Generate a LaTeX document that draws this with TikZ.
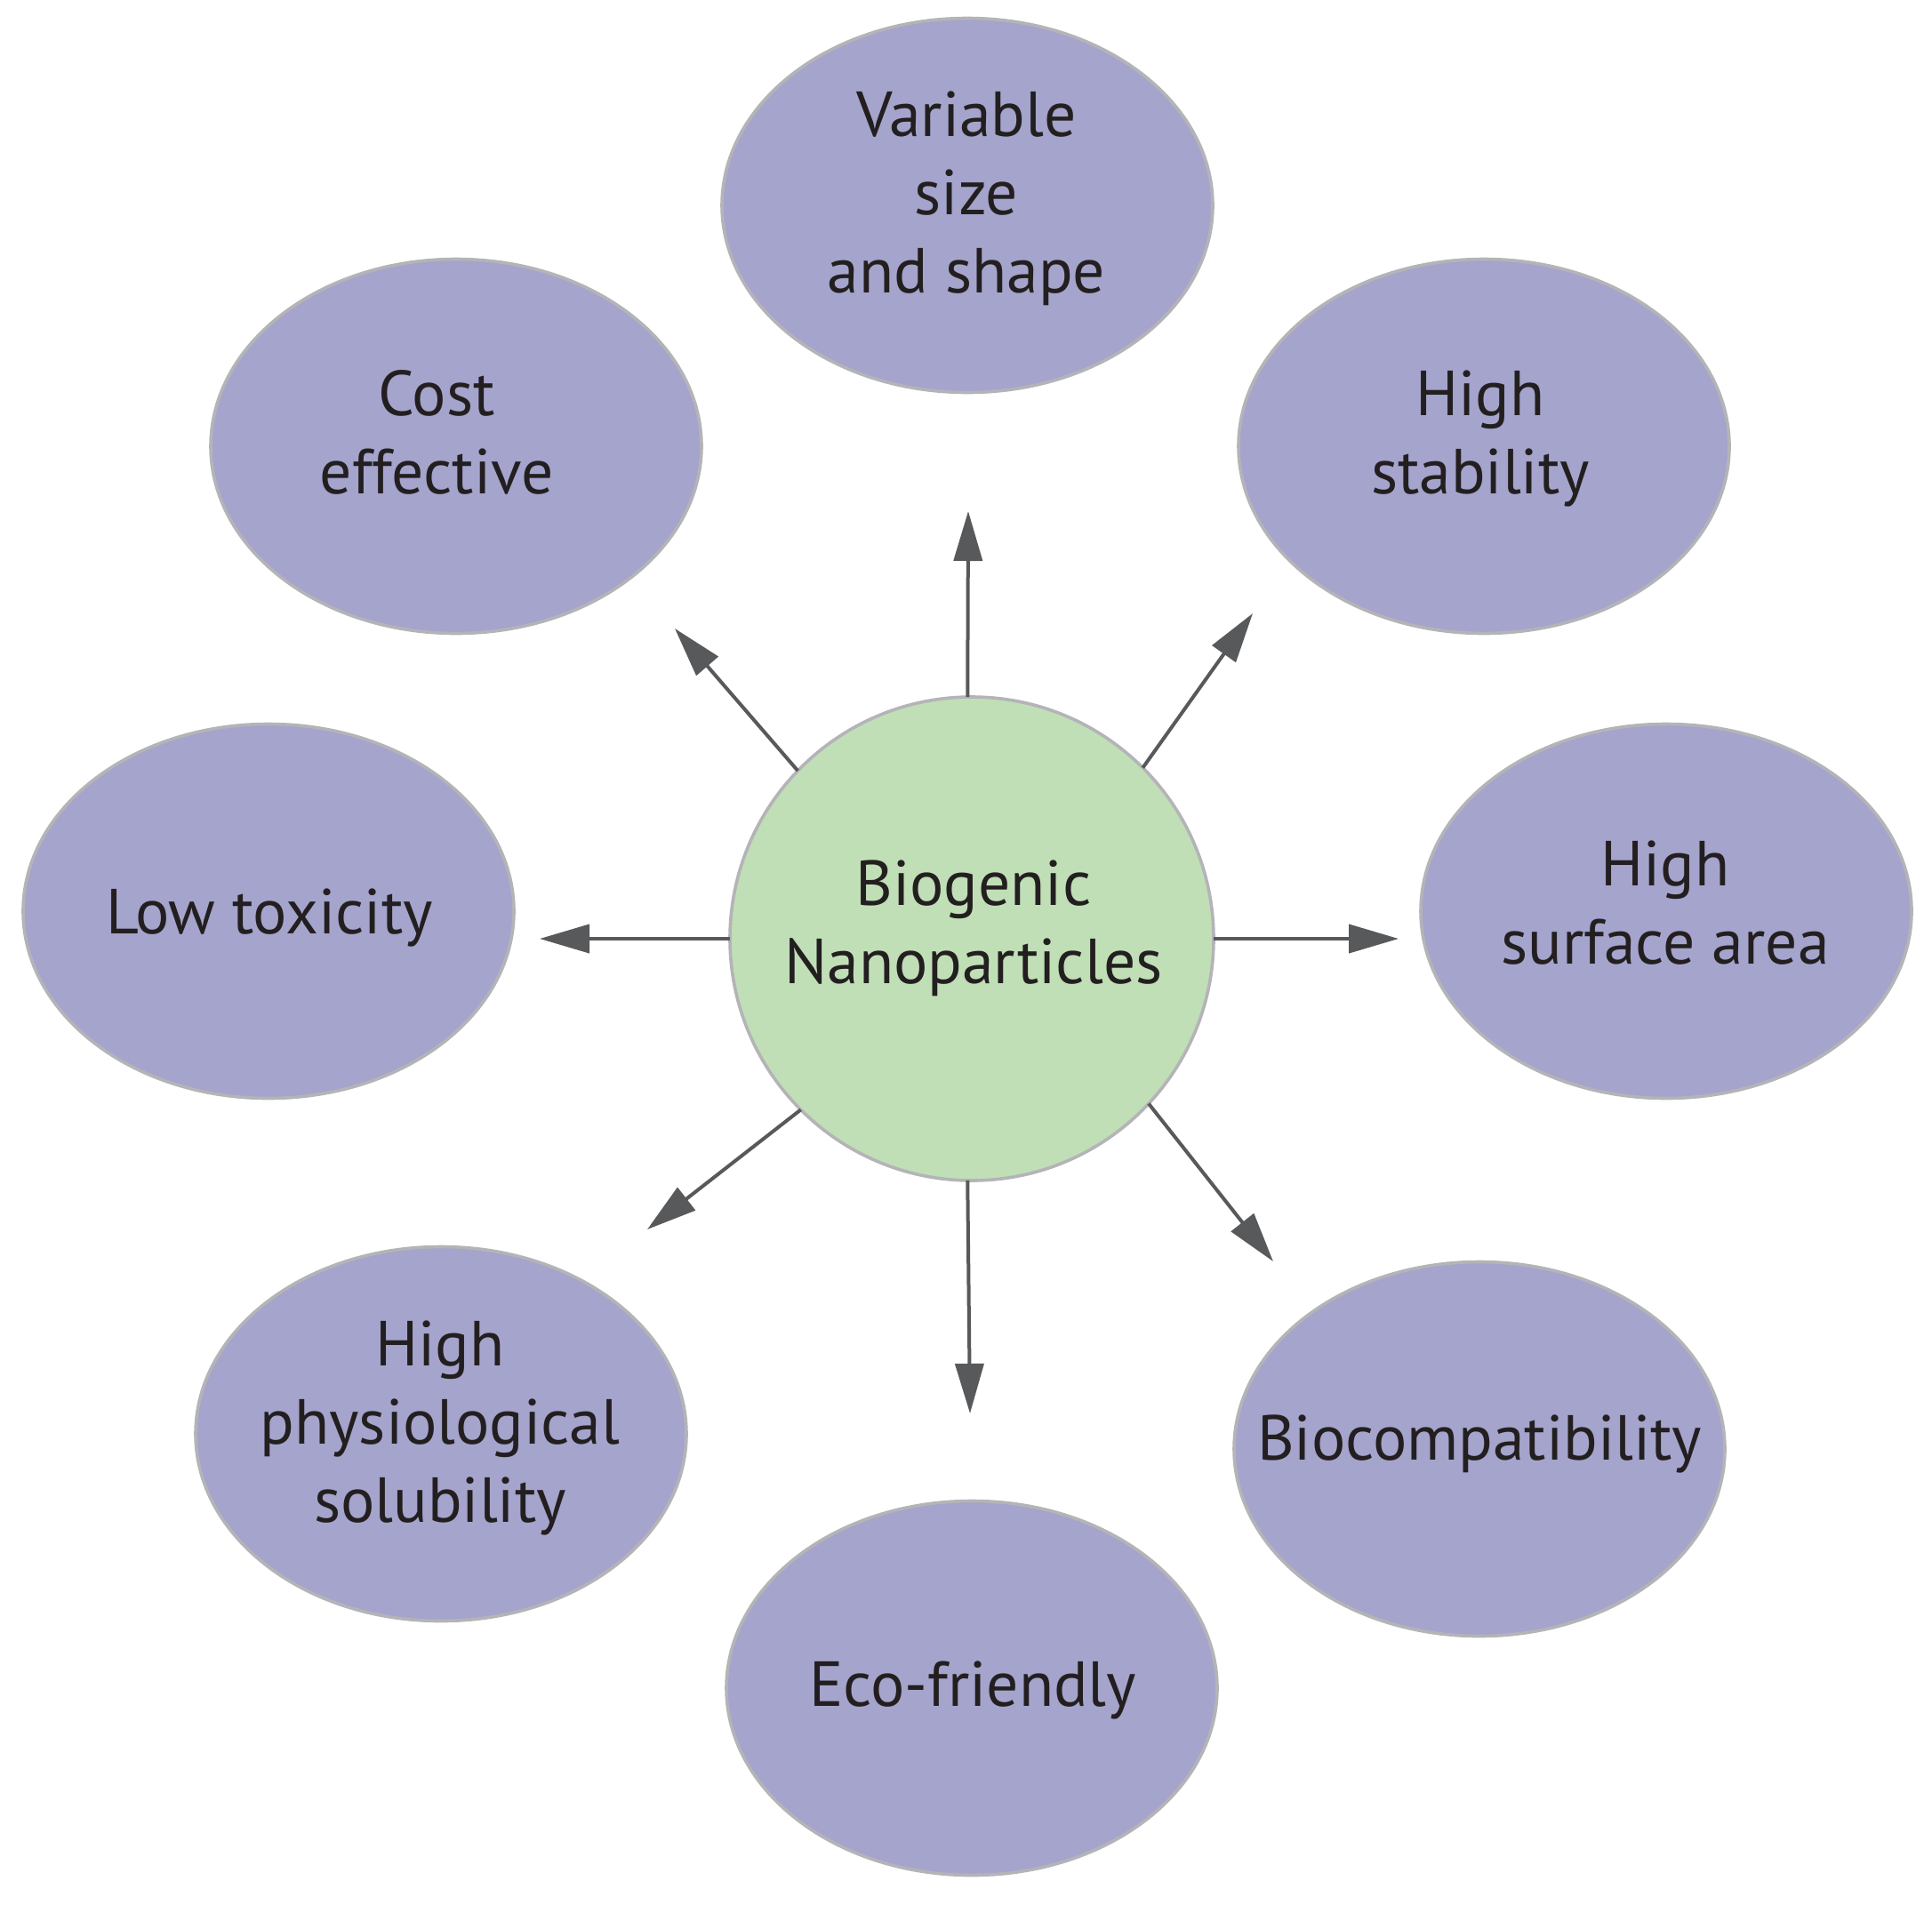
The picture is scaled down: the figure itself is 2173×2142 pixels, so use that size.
\documentclass[tikz,border=0pt]{standalone}
\usepackage{fontspec}
\setmainfont{PT Sans}
\usetikzlibrary{shapes.geometric,arrows.meta}
\definecolor{ellfill}{HTML}{A4A4CC}
\definecolor{ellline}{HTML}{B4B4B8}
\definecolor{cirfill}{HTML}{C0DFB6}
\definecolor{arrcol}{HTML}{58595B}
\definecolor{txtcol}{HTML}{231F20}
\newcommand{\lines}[1]{\begin{tabular}[t]{@{}c@{}}#1\end{tabular}}
\tikzset{
  prop/.style={ellipse, fill=ellfill, draw=ellline, line width=0.9pt,
    minimum width=138pt, minimum height=105.25pt, inner sep=0pt},
  hub/.style={circle, fill=cirfill, draw=ellline, line width=0.9pt,
    minimum size=136pt, inner sep=0pt, outer sep=0pt},
  lbl/.style={anchor=base, inner sep=0pt, text=txtcol,
    font=\fontsize{17.9pt}{22pt}\selectfont},
  link/.style={draw=arrcol, line width=1pt,
    -{Triangle[length=14pt,width=8pt]}, arrcol}
}
\begin{document}
\begin{tikzpicture}[x=0.25pt,y=-0.25pt]
\useasboundingbox (0,0) rectangle (2173,2142);
\node[hub] (c) at (1093,1056) {};
\node[prop] (top) at (1088,231) {};
\node[prop] (cost) at (513,502) {};
\node[prop] (stab) at (1669,502) {};
\node[prop] (low) at (302,1025) {};
\node[prop] (surf) at (1874,1025) {};
\node[prop] (sol) at (496,1613) {};
\node[prop] (bio) at (1664,1630) {};
\node[prop] (eco) at (1093,1899) {};
\node[lbl] (cT) at (1095,1018) {\lines{Biogenic\\Nanoparticles}};
\node[lbl] (topT) at (1087,153) {\lines{Variable\\size\\and shape}};
\node[lbl] (costT) at (491,467) {\lines{Cost\\effective}};
\node[lbl] (stabT) at (1665,467) {\lines{High\\stability}};
\node[lbl] (lowT) at (303,1050) {\lines{Low toxicity}};
\node[lbl] (surfT) at (1873,996) {\lines{High\\surface area}};
\node[lbl] (solT) at (495,1536) {\lines{High\\physiological\\solubility}};
\node[lbl] (bioT) at (1664,1642) {\lines{Biocompatibility}};
\node[lbl] (ecoT) at (1094,1919) {\lines{Eco-friendly}};
\coordinate (tU) at (1089,575);
\coordinate (tUL) at (759,707);
\coordinate (tUR) at (1409,690);
\coordinate (tL) at (607,1056);
\coordinate (tR) at (1573,1056);
\coordinate (tLL) at (728,1383);
\coordinate (tLR) at (1432,1419);
\coordinate (tD) at (1091,1590);
\draw[link] (c.91) -- (tU);
\draw[link] (c.136) -- (tUL);
\draw[link] (c.45) -- (tUR);
\draw[link] (c.180) -- (tL);
\draw[link] (c.0) -- (tR);
\draw[link] (c.225) -- (tLL);
\draw[link] (c.317) -- (tLR);
\draw[link] (c.269) -- (tD);
\end{tikzpicture}
\end{document}
